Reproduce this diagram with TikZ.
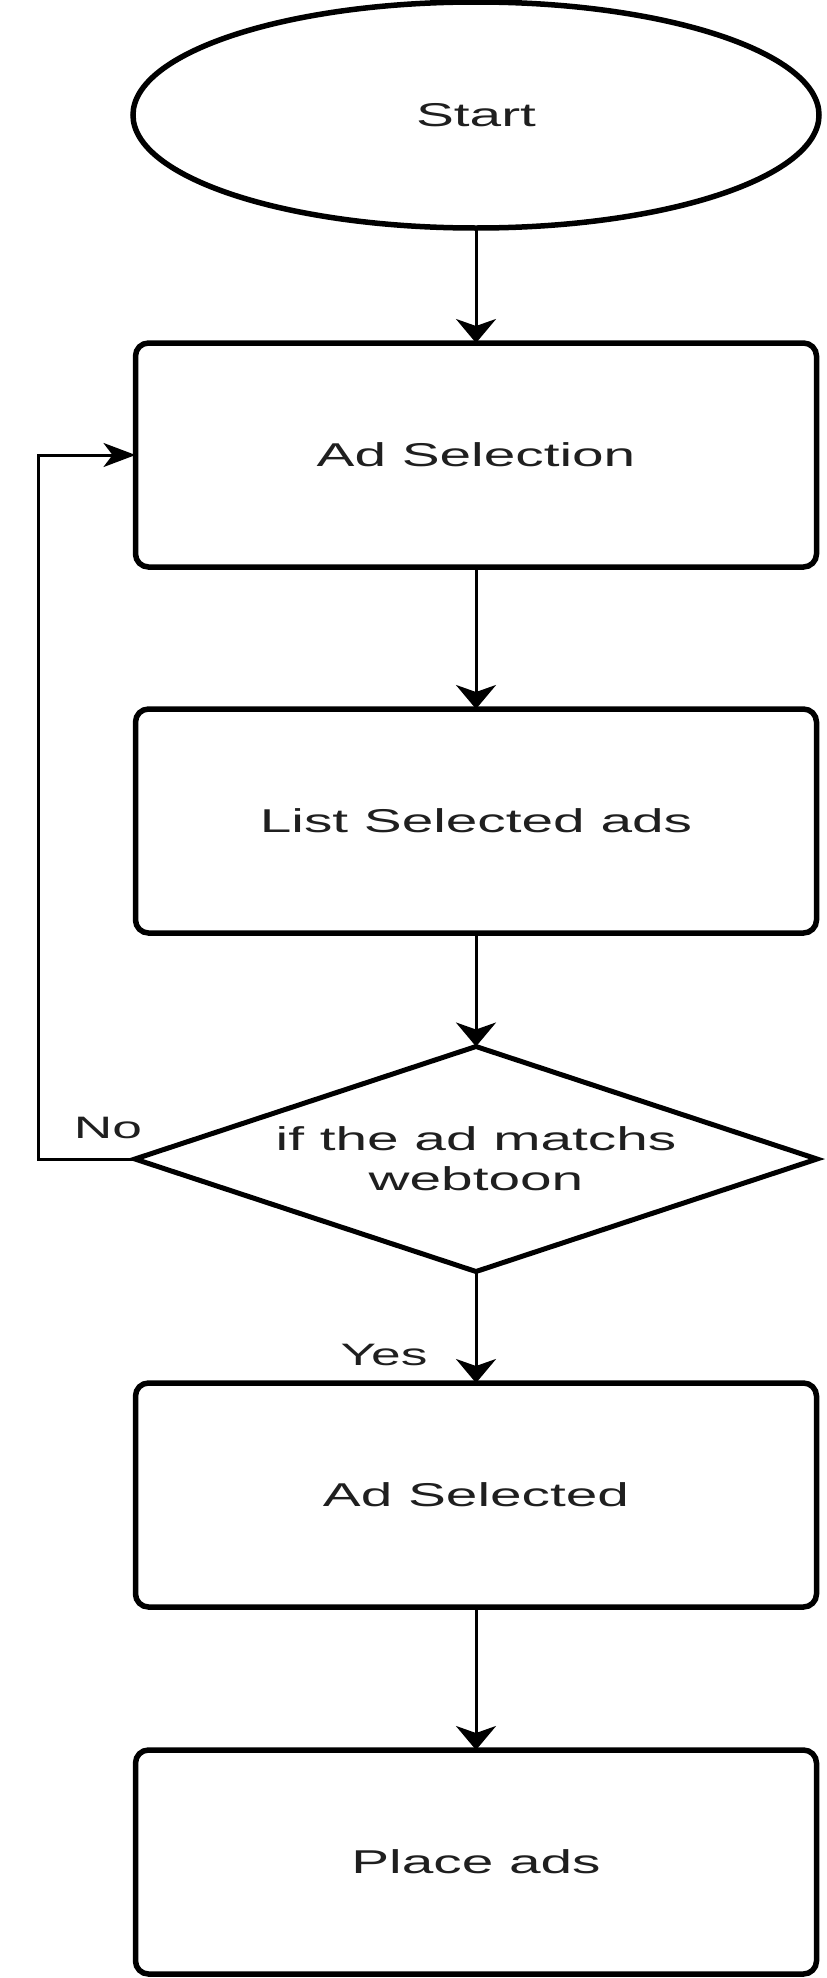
\documentclass[tikz,border=0pt]{standalone}
\usepackage{fontspec}
\setmainfont{Liberation Sans}
\usetikzlibrary{shapes.geometric,arrows.meta}
\definecolor{txt}{rgb}{0.12,0.12,0.12}
\newcommand{\wide}[1]{\scalebox{1.72}[1]{#1}}
\begin{document}
\begin{tikzpicture}[x=1pt,y=-1pt,
  every node/.style={inner sep=0pt,outer sep=0pt,text=txt,font=\fontsize{33}{40}\selectfont},
  boxstep/.style={draw=black,line width=5.5pt,rounded corners=13pt,minimum width=681pt,minimum height=224pt,fill=white},
  startstep/.style={draw=black,ellipse,line width=5.5pt,minimum width=686pt,minimum height=226pt},
  decstep/.style={minimum width=682pt,minimum height=225pt,align=center},
  decline/.style={draw=black,line width=5pt,line join=miter},
  arr/.style={line width=3pt,-{Stealth[length=24pt,width=40pt,inset=7pt]}},
  harr/.style={line width=3pt,-{Stealth[length=32pt,width=24pt,inset=9pt]}},
  lbl/.style={font=\fontsize{31}{38}\selectfont}
]
\useasboundingbox (0,0) rectangle (827,1978);
\fill[white] (0,0) rectangle (827,1978);
\node[startstep] (start) at (476,115) {\wide{Start}};
\node[boxstep] (ad) at (476,455) {\wide{Ad Selection}};
\node[boxstep] (list) at (476,821) {\wide{List Selected ads}};
\node[decstep] (dec) at (476,1159) {\wide{if the ad matchs}\\\wide{webtoon}};
\draw[decline] (dec.north) -- (dec.east) -- (dec.south) -- (dec.west) -- cycle;
\node[boxstep] (sel) at (476,1495) {\wide{Ad Selected}};
\node[boxstep] (place) at (476,1862) {\wide{Place ads}};
\coordinate (loopx) at (38,0);
\draw[arr] (start) -- (ad);
\draw[arr] (ad) -- (list);
\draw[arr] (list) -- (dec.north);
\draw[arr] (dec.south) -- (sel);
\draw[arr] (sel) -- (place);
\draw[harr,line join=miter] (dec.west) -- (loopx |- dec.west) -- (loopx |- ad.west) -- (ad.west);
\node[lbl] (no) at (108,1128) {\wide{No}};
\node[lbl] (yes) at (384,1355) {\wide{Yes}};
\end{tikzpicture}
\end{document}
